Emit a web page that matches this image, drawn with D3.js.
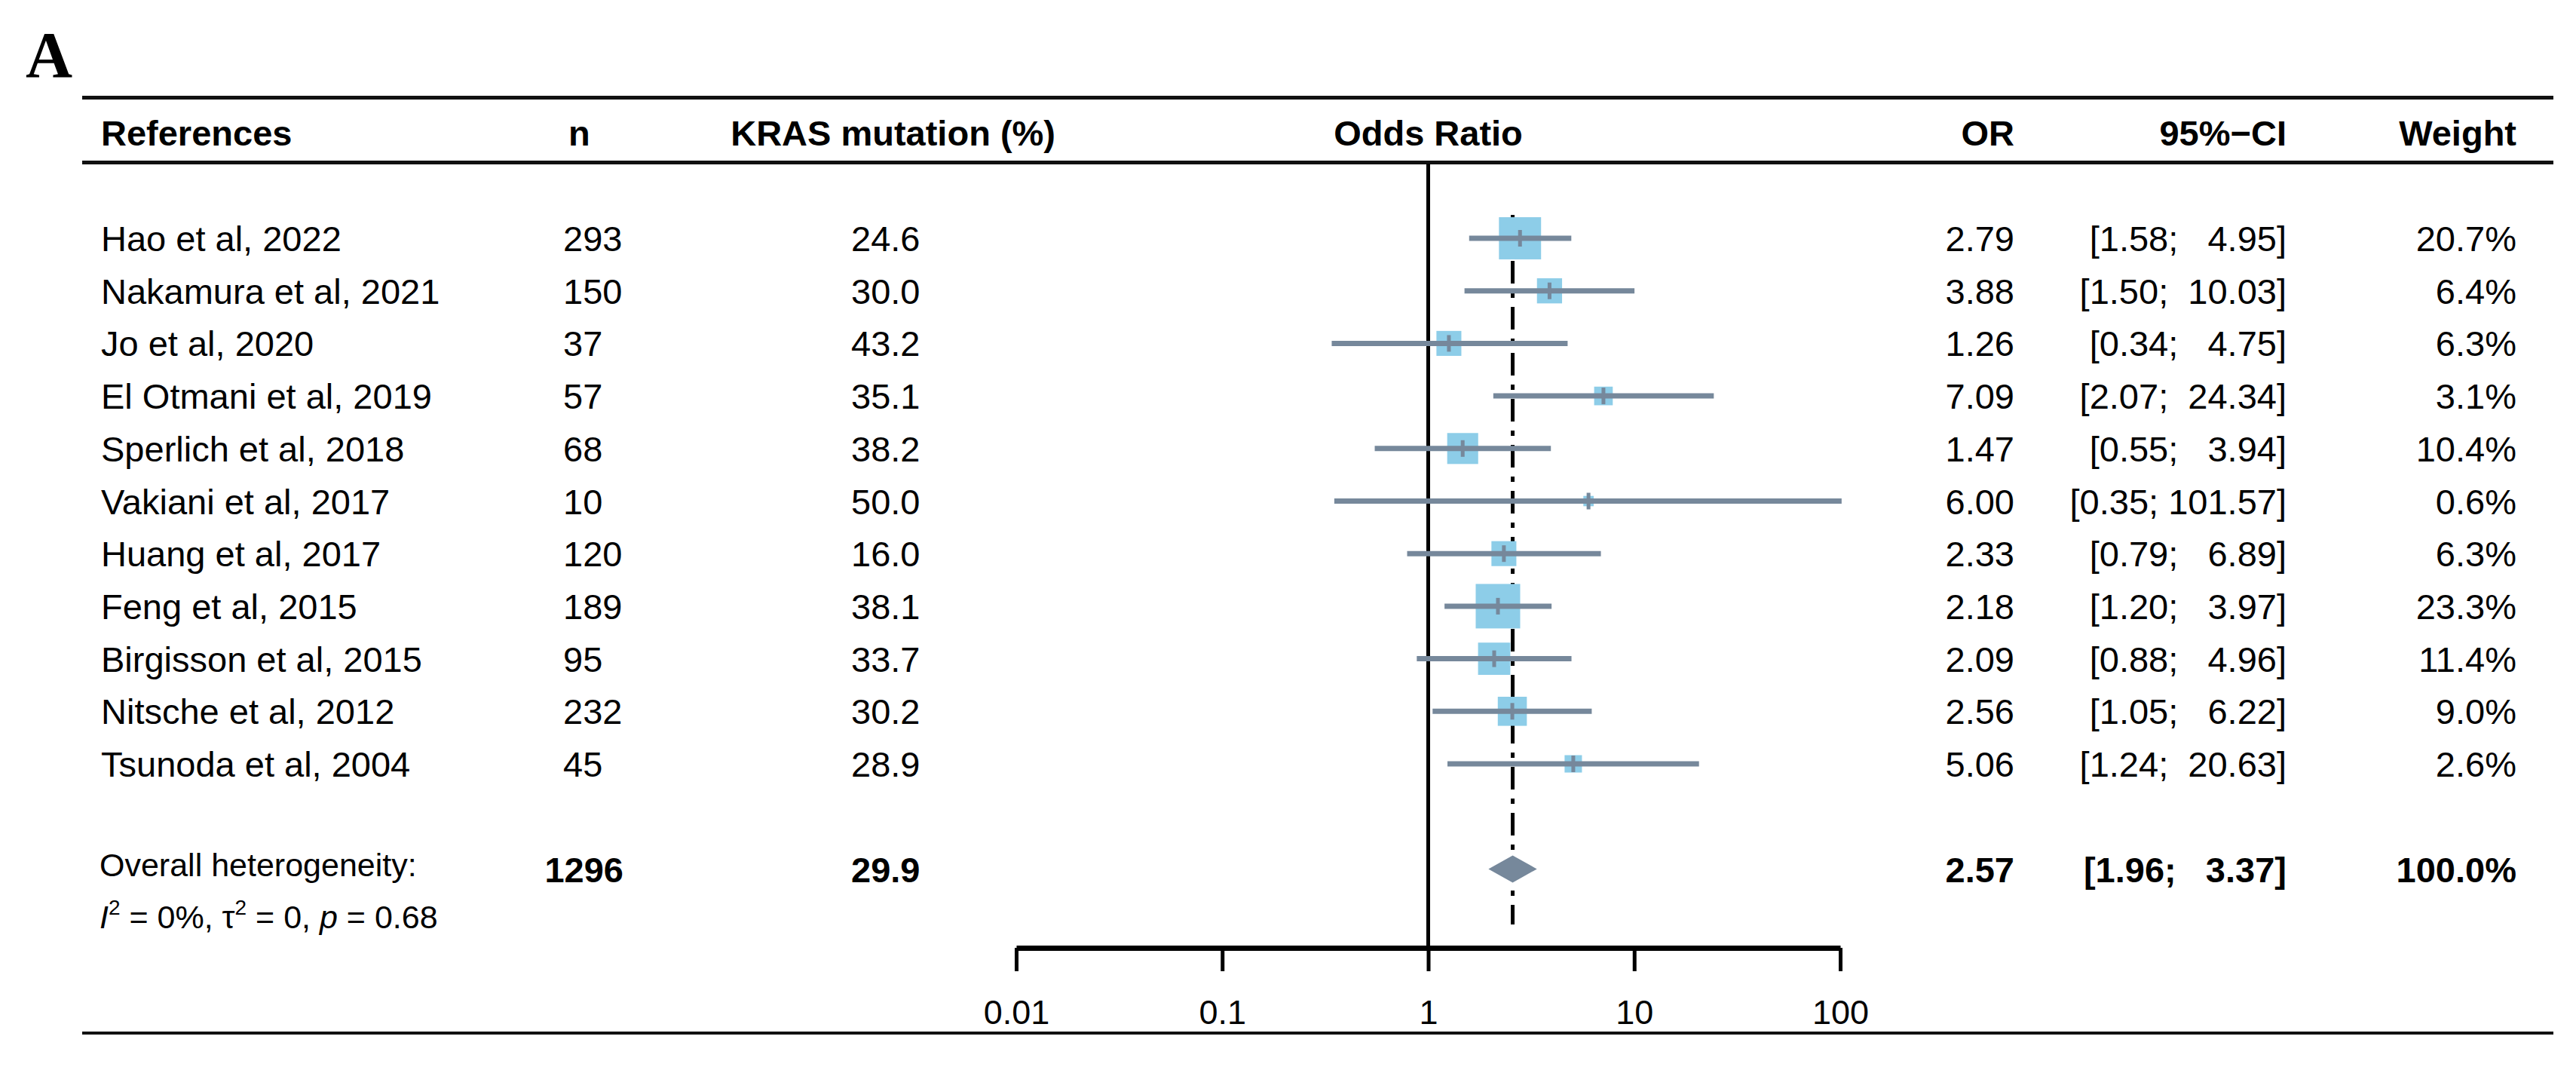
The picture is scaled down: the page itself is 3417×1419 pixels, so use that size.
<!DOCTYPE html>
<html>
<head>
<meta charset="utf-8">
<script src="https://cdn.jsdelivr.net/npm/d3@7"></script>
<style>
  body { margin: 0; background: #fff; }
  text { font-family: "Liberation Sans", Arial, sans-serif; fill: #000; white-space: pre; }
</style>
</head>
<body>
<svg id="chart"></svg>
<script>
// study data
const studies = [
  "Hao et al, 2022", "Nakamura et al, 2021", "Jo et al, 2020", "El Otmani et al, 2019",
  "Sperlich et al, 2018", "Vakiani et al, 2017", "Huang et al, 2017", "Feng et al, 2015",
  "Birgisson et al, 2015", "Nitsche et al, 2012", "Tsunoda et al, 2004"
];
const nPatients = [293, 150, 37, 57, 68, 10, 120, 189, 95, 232, 45];
const krasPct = [24.6, 30.0, 43.2, 35.1, 38.2, 50.0, 16.0, 38.1, 33.7, 30.2, 28.9];
const oddsRatio = [2.79, 3.88, 1.26, 7.09, 1.47, 6.00, 2.33, 2.18, 2.09, 2.56, 5.06];
const ciLower = [1.58, 1.50, 0.34, 2.07, 0.55, 0.35, 0.79, 1.20, 0.88, 1.05, 1.24];
const ciUpper = [4.95, 10.03, 4.75, 24.34, 3.94, 101.57, 6.89, 3.97, 4.96, 6.22, 20.63];
const weights = [20.7, 6.4, 6.3, 3.1, 10.4, 0.6, 6.3, 23.3, 11.4, 9.0, 2.6];

const overall = { n: 1296, kras: 29.9, or: 2.57, lower: 1.96, upper: 3.37, weight: 100.0 };
const tickValues = [0.01, 0.1, 1, 10, 100];
const tickLabels = ["0.01", "0.1", "1", "10", "100"];

const W = 3417, H = 1419;
const fs = 47;
const ciColor = "#76889b", boxColor = "#8dcde8";

const svg = d3.select("#chart").attr("width", W).attr("height", H);
svg.append("rect").attr("width", W).attr("height", H).attr("fill", "#fff");

const x = d3.scaleLog().domain([0.01, 100]).range([1348, 2441]);
// row index -> y centre (row 12 is the overall estimate, 11 blank)
const y = d3.scaleLinear().domain([0, 1]).range([316, 385.7]);
const box = d3.scaleSqrt().domain([0, 23.3]).range([5, 59]);

// panel letter
svg.append("text").attr("x", 34).attr("y", 102)
  .style("font-family", "'Liberation Serif', 'Times New Roman', serif")
  .attr("font-weight", "bold").attr("font-size", 86).text("A");

// horizontal rules
[[129.5, 5], [215.5, 5], [1370, 4]].forEach(([yy, sw]) => {
  svg.append("line").attr("x1", 109).attr("x2", 3387).attr("y1", yy).attr("y2", yy)
    .attr("stroke", "#111").attr("stroke-width", sw);
});

// header
const hy = 193;
const header = [
  { t: "References", x: 134, a: "start" },
  { t: "n", x: 754, a: "start" },
  { t: "KRAS mutation (%)", x: 1400, a: "end" },
  { t: "Odds Ratio", x: x(1), a: "middle" },
  { t: "OR", x: 2672, a: "end" },
  { t: "95%\u2212CI", x: 3033, a: "end" },
  { t: "Weight", x: 3338, a: "end" }
];
svg.selectAll(".hdr").data(header).join("text").attr("class", "hdr")
  .attr("x", d => d.x).attr("y", hy).attr("text-anchor", d => d.a)
  .attr("font-weight", "bold").attr("font-size", fs).text(d => d.t);

// reference line at OR = 1
svg.append("line").attr("x1", x(1)).attr("x2", x(1)).attr("y1", 217).attr("y2", 1257)
  .attr("stroke", "#000").attr("stroke-width", 5);

// pooled estimate line
svg.append("line").attr("x1", x(overall.or)).attr("x2", x(overall.or))
  .attr("y1", 285).attr("y2", 1226)
  .attr("stroke", "#000").attr("stroke-width", 5)
  .attr("stroke-dasharray", "30,12,7,12");

const rows = studies.map((s, i) => ({
  name: s, n: nPatients[i], kras: krasPct[i], or: oddsRatio[i],
  lo: ciLower[i], hi: ciUpper[i], w: weights[i], i: i
}));

// squares
svg.selectAll(".box").data(rows).join("rect").attr("class", "box")
  .attr("x", d => x(d.or) - box(d.w) / 2).attr("y", d => y(d.i) - box(d.w) / 2)
  .attr("width", d => box(d.w)).attr("height", d => box(d.w))
  .attr("fill", boxColor);

// confidence intervals
svg.selectAll(".ci").data(rows).join("line").attr("class", "ci")
  .attr("x1", d => x(d.lo)).attr("x2", d => x(d.hi))
  .attr("y1", d => y(d.i)).attr("y2", d => y(d.i))
  .attr("stroke", ciColor).attr("stroke-width", 7);

// point estimate ticks
svg.selectAll(".pt").data(rows).join("rect").attr("class", "pt")
  .attr("x", d => x(d.or) - 2.5).attr("y", d => y(d.i) - 11)
  .attr("width", 5).attr("height", 22).attr("fill", ciColor);

// overall diamond
const yo = y(12);
svg.append("path")
  .attr("d", `M${x(overall.lower)},${yo} L${x(overall.or)},${yo - 18} L${x(overall.upper)},${yo} L${x(overall.or)},${yo + 18} Z`)
  .attr("fill", ciColor);

// CI text like R meta: pad to common widths
const fmt = v => v.toFixed(2);
const loW = d3.max(ciLower.concat([overall.lower]), v => fmt(v).length);
const hiW = d3.max(ciUpper.concat([overall.upper]), v => fmt(v).length);
const ciText = (lo, hi) => "[" + fmt(lo).padStart(loW, " ") + "; " + fmt(hi).padStart(hiW, " ") + "]";

const off = 17;
const g = svg.append("g");
rows.forEach(d => {
  const yy = y(d.i) + off;
  g.append("text").attr("x", 134).attr("y", yy).attr("font-size", fs).text(d.name);
  g.append("text").attr("x", 747).attr("y", yy).attr("font-size", fs).text(d.n);
  g.append("text").attr("x", 1129).attr("y", yy).attr("font-size", fs).text(d.kras.toFixed(1));
  g.append("text").attr("x", 2672).attr("y", yy).attr("text-anchor", "end").attr("font-size", fs).text(fmt(d.or));
  g.append("text").attr("x", 3033).attr("y", yy).attr("text-anchor", "end").attr("font-size", fs).text(ciText(d.lo, d.hi));
  g.append("text").attr("x", 3338).attr("y", yy).attr("text-anchor", "end").attr("font-size", fs).text(d.w.toFixed(1) + "%");
});

// overall row
const yb = yo + 18;
g.append("text").attr("x", 827).attr("y", yb).attr("text-anchor", "end").attr("font-weight", "bold").attr("font-size", fs).text(overall.n);
g.append("text").attr("x", 1129).attr("y", yb).attr("font-weight", "bold").attr("font-size", fs).text(overall.kras.toFixed(1));
g.append("text").attr("x", 2672).attr("y", yb).attr("text-anchor", "end").attr("font-weight", "bold").attr("font-size", fs).text(fmt(overall.or));
g.append("text").attr("x", 3033).attr("y", yb).attr("text-anchor", "end").attr("font-weight", "bold").attr("font-size", fs).text(ciText(overall.lower, overall.upper));
g.append("text").attr("x", 3338).attr("y", yb).attr("text-anchor", "end").attr("font-weight", "bold").attr("font-size", fs).text(overall.weight.toFixed(1) + "%");

g.append("text").attr("x", 132).attr("y", 1162).attr("font-size", 43).text("Overall heterogeneity:");
const het = g.append("text").attr("x", 132).attr("y", 1231).attr("font-size", 43);
het.append("tspan").attr("font-style", "italic").text("I");
het.append("tspan").attr("font-size", 28).attr("dy", -18).text("2");
het.append("tspan").attr("dy", 18).text(" = 0%, \u03c4");
het.append("tspan").attr("font-size", 28).attr("dy", -18).text("2");
het.append("tspan").attr("dy", 18).text(" = 0, ");
het.append("tspan").attr("font-style", "italic").text("p");
het.append("tspan").text(" = 0.68");

// x axis
const axis = svg.append("g").attr("transform", "translate(0,1257)")
  .call(d3.axisBottom(x).tickValues(tickValues).tickFormat((d, i) => tickLabels[i])
    .tickSize(31).tickSizeOuter(0).tickPadding(38));
axis.select(".domain").attr("stroke", "#000").attr("stroke-width", 7);
axis.selectAll(".tick line").attr("stroke", "#000").attr("stroke-width", 5);
axis.selectAll(".tick text").attr("font-size", 45).attr("fill", "#000")
  .style("font-family", "'Liberation Sans', Arial, sans-serif");
</script>
</body>
</html>
